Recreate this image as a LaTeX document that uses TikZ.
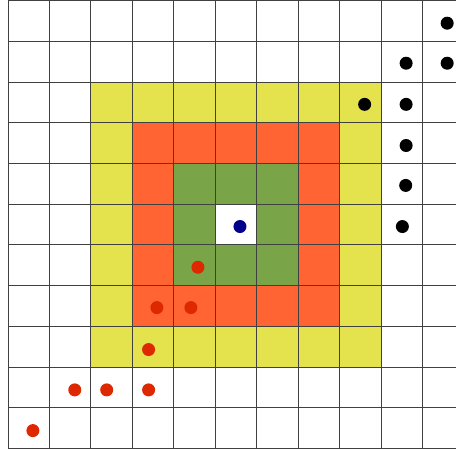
\documentclass[tikz,border=0pt]{standalone}
\definecolor{cyel}{RGB}{229,227,77}
\definecolor{corg}{RGB}{255,100,50}
\definecolor{cgrn}{RGB}{122,164,72}
\definecolor{cnavy}{RGB}{0,0,140}
\definecolor{cred}{RGB}{222,40,0}
\begin{document}
\begin{tikzpicture}[x=1pt,y=-1pt,
  dotblk/.style={circle,fill=black,inner sep=0pt,minimum size=13pt},
  dotred/.style={circle,fill=cred,inner sep=0pt,minimum size=13pt},
  dotblue/.style={circle,fill=cnavy,inner sep=0pt,minimum size=13pt},
  gridline/.style={draw=black!75,line width=0.9pt}]
\useasboundingbox (0,0) rectangle (456,450);
\begin{scope}
\clip (0,0) rectangle (456,450);
\begin{scope}[x=41.47pt,y=-40.73pt,shift={(8pt,-0.5pt)}]
  \fill[cyel] (2,2) rectangle (9,9);
  \fill[corg] (3,3) rectangle (8,8);
  \fill[cgrn] (4,4) rectangle (7,7);
  \fill[white] (5,5) rectangle (6,6);
  \foreach \i in {0,...,11} {
    \draw[gridline] (\i,0) -- (\i,11);
    \draw[gridline] (0,\i) -- (11,\i);
  }
  % blue
  \node[dotblue] (b0) at (5.594,5.549) {};
  % red
  \node[dotred] (r1) at (4.58,6.55) {};
  \node[dotred] (r2) at (3.59,7.54) {};
  \node[dotred] (r3) at (4.41,7.54) {};
  \node[dotred] (r4) at (3.39,8.57) {};
  \node[dotred] (r5) at (1.61,9.56) {};
  \node[dotred] (r6) at (2.38,9.56) {};
  \node[dotred] (r7) at (3.39,9.56) {};
  \node[dotred] (r8) at (0.60,10.56) {};
  % black
  \node[dotblk] (k1) at (10.59,0.557) {};
  \node[dotblk] (k2) at (9.60,1.54) {};
  \node[dotblk] (k3) at (10.59,1.54) {};
  \node[dotblk] (k4) at (8.60,2.55) {};
  \node[dotblk] (k5) at (9.60,2.55) {};
  \node[dotblk] (k6) at (9.60,3.56) {};
  \node[dotblk] (k7) at (9.59,4.54) {};
  \node[dotblk] (k8) at (9.51,5.55) {};
\end{scope}
\end{scope}
\end{tikzpicture}
\end{document}
